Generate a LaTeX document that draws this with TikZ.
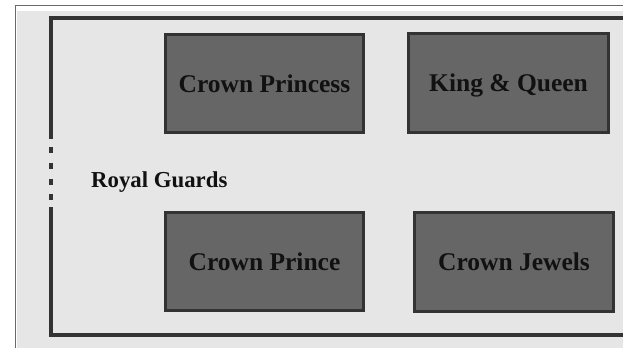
\documentclass[tikz,border=0pt]{standalone}
\usepackage{fontspec}
\setmainfont{Liberation Serif}
\definecolor{bggray}{HTML}{E6E6E6}
\definecolor{framegray}{HTML}{333333}
\definecolor{boxgray}{HTML}{666666}
\definecolor{thinline}{HTML}{6A6A6A}
\definecolor{txt}{HTML}{111111}
\tikzset{
  room/.style={draw=framegray, fill=boxgray, line width=3pt, inner sep=0pt,
    minimum width=198pt, minimum height=98pt, text=txt,
    font=\fontsize{25.5}{28}\selectfont\bfseries, text height=17pt, text depth=0pt},
  wall/.style={draw=framegray, line width=4.2pt},
  lbl/.style={inner sep=0pt, text=txt, font=\fontsize{22.8}{26}\selectfont\bfseries}
}
\begin{document}
\begin{tikzpicture}[x=1pt,y=-1pt]
\useasboundingbox (0,0) rectangle (623,348);
\fill[white] (0,0) rectangle (623,348);
\fill[bggray] (17,10.5) rectangle (623,348);
\draw[thinline, line width=1.3pt] (15.6,348) -- (15.6,5.6) -- (623,5.6);
% frame
\coordinate (ftr) at (623,17.8);
\coordinate (ftl) at (51.2,17.8);
\coordinate (fg1) at (51.2,139);
\coordinate (fg2) at (51.2,207);
\coordinate (fbl) at (51.2,334.6);
\coordinate (fbr) at (623,334.6);
\draw[wall] (ftr) -- (ftl) -- (fg1);
\draw[wall] (fg2) -- (fbl) -- (fbr);
\draw[wall, dash pattern=on 6pt off 9.8pt] (51.2,147) -- (51.2,201);
% rooms
\node[room] (princess) at (264.5,83.5) {Crown Princess};
\node[room, minimum width=200pt, minimum height=99pt] (king) at (508.5,83) {King \& Queen};
\node[room] (prince) at (264.5,261.5) {Crown Prince};
\node[room, minimum width=199pt, minimum height=99pt] (jewels) at (514,262) {Crown Jewels};
\node[lbl, anchor=base west] (guards) at (91,187) {Royal Guards};
\end{tikzpicture}
\end{document}
